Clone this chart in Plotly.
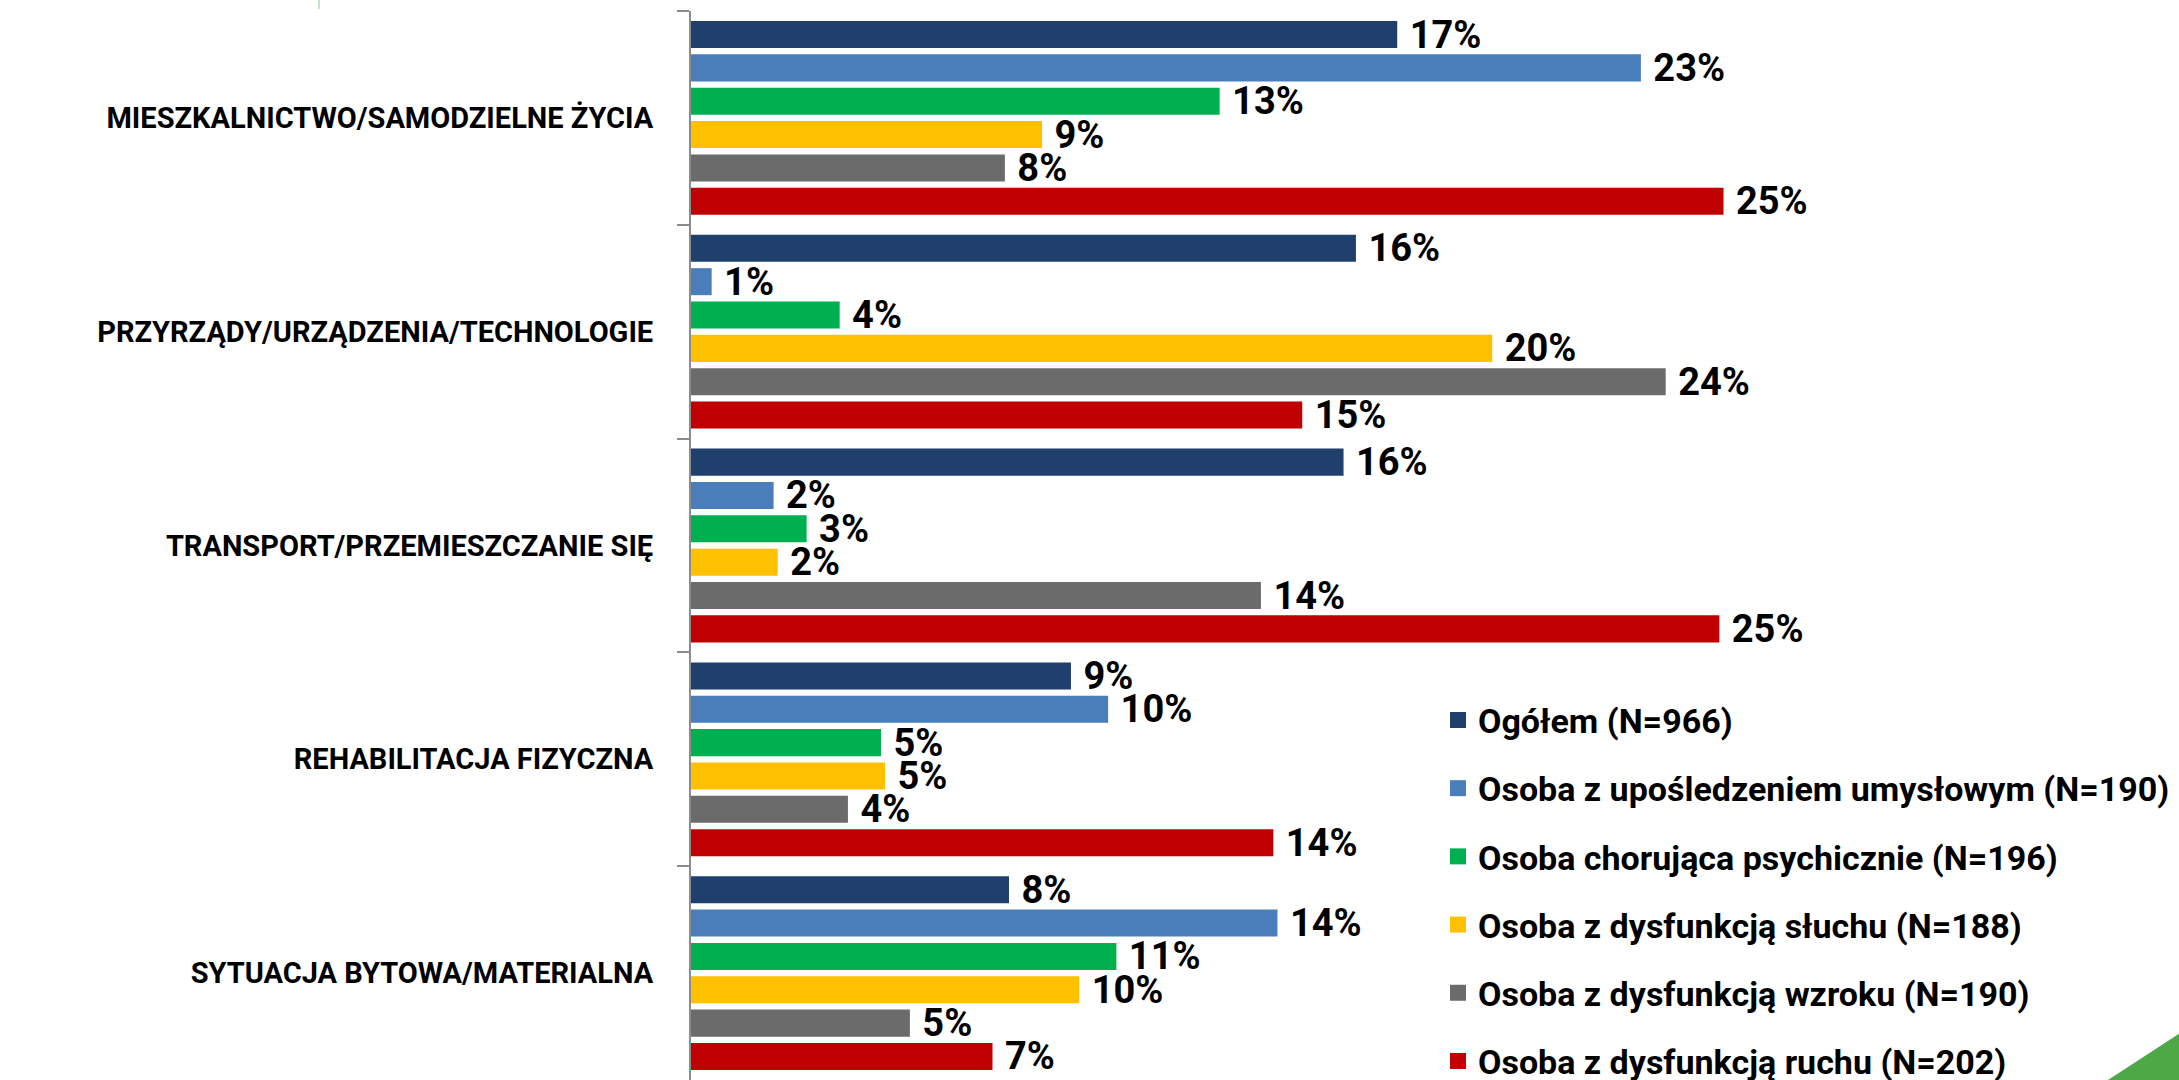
import plotly.graph_objects as go

categories = [
    "MIESZKALNICTWO/SAMODZIELNE ŻYCIA",
    "PRZYRZĄDY/URZĄDZENIA/TECHNOLOGIE",
    "TRANSPORT/PRZEMIESZCZANIE SIĘ",
    "REHABILITACJA FIZYCZNA",
    "SYTUACJA BYTOWA/MATERIALNA",
]

series_names = [
    "Ogółem (N=966)",
    "Osoba z upośledzeniem umysłowym (N=190)",
    "Osoba chorująca psychicznie (N=196)",
    "Osoba z dysfunkcją słuchu (N=188)",
    "Osoba z dysfunkcją wzroku (N=190)",
    "Osoba z dysfunkcją ruchu (N=202)",
]

# values (%) per series, in category order
ogolem = [17.1, 16.1, 15.8, 9.2, 7.7]
umyslowe = [23.0, 0.5, 2.0, 10.1, 14.2]
psychiczne = [12.8, 3.6, 2.8, 4.6, 10.3]
sluch = [8.5, 19.4, 2.1, 4.7, 9.4]
wzrok = [7.6, 23.6, 13.8, 3.8, 5.3]
ruch = [25.0, 14.8, 24.9, 14.1, 7.3]

# displayed labels
ogolem_lbl = ["17%", "16%", "16%", "9%", "8%"]
umyslowe_lbl = ["23%", "1%", "2%", "10%", "14%"]
psychiczne_lbl = ["13%", "4%", "3%", "5%", "11%"]
sluch_lbl = ["9%", "20%", "2%", "5%", "10%"]
wzrok_lbl = ["8%", "24%", "14%", "4%", "5%"]
ruch_lbl = ["25%", "15%", "25%", "14%", "7%"]

series_values = [ogolem, umyslowe, psychiczne, sluch, wzrok, ruch]
series_labels = [ogolem_lbl, umyslowe_lbl, psychiczne_lbl, sluch_lbl, wzrok_lbl, ruch_lbl]
colors = ["#1F3F6D", "#4A7EBB", "#00B050", "#FFC000", "#6B6B6B", "#C00000"]

FONT = "Roboto, Liberation Sans, sans-serif"

fig = go.Figure()
for name, vals, lbls, col in zip(series_names, series_values, series_labels, colors):
    fig.add_trace(go.Bar(
        y=categories, x=vals, name=name, orientation="h",
        marker=dict(color=col, line=dict(width=0)),
        text=lbls, texttemplate=" %{text}", textposition="outside",
        constraintext="none",
        textfont=dict(family=FONT, size=38, color="black", weight="bold"),
        cliponaxis=False, showlegend=False,
    ))

# legend entries (square swatches)
for name, col in zip(series_names, colors):
    fig.add_trace(go.Scatter(
        x=[None], y=[None], mode="markers", name=name, legendgroup=name,
        marker=dict(symbol="square", size=16, color=col),
        showlegend=True,
    ))

W, H = 2179, 1080
L, R, T, B = 691, 249, 11, -1
pw = W - L - R
ph = H - T - B

def px_to_paper_x(px):
    return (px - L) / pw

def px_to_paper_y(py):
    return (H - B - py) / ph

fig.update_layout(
    width=W, height=H,
    margin=dict(l=L, r=R, t=T, b=0, autoexpand=False),
    paper_bgcolor="white", plot_bgcolor="white",
    barmode="group", bargap=0.064, bargroupgap=0.19,
    showlegend=True,
    legend=dict(
        x=px_to_paper_x(1438), y=px_to_paper_y(692), xanchor="left", yanchor="top",
        font=dict(family=FONT, size=34, color="black", weight="bold"),
        traceorder="grouped", tracegroupgap=21, bgcolor="rgba(0,0,0,0)",
        itemwidth=30,
    ),
    xaxis=dict(range=[0, 30], showticklabels=False, showgrid=False, zeroline=False,
               showline=False, ticks=""),
    yaxis=dict(type="category", autorange="reversed", showgrid=False, zeroline=False,
               showline=True,
               linecolor="#8C8C8C", linewidth=2, ticks="outside", tickson="boundaries",
               ticklen=12, tickcolor="#8C8C8C", tickwidth=2, ticklabelstandoff=30,
               tickfont=dict(family=FONT, size=29, color="black", weight="bold")),
    shapes=[
        dict(type="path", xref="paper", yref="paper",
             path=f"M {px_to_paper_x(2108)} {px_to_paper_y(1081)} L {px_to_paper_x(2180)} {px_to_paper_y(1034)} L {px_to_paper_x(2180)} {px_to_paper_y(1081)} Z",
             fillcolor="#4EA845", line=dict(width=0), layer="above"),
        dict(type="line", xref="paper", yref="paper",
             x0=px_to_paper_x(319), x1=px_to_paper_x(319),
             y0=px_to_paper_y(0), y1=px_to_paper_y(9),
             line=dict(color="#9BBB9B", width=1)),
    ],
)

fig.write_html("out.html", config={"displayModeBar": False},
               post_script="document.body.style.margin='0';document.body.style.overflow='hidden';")
